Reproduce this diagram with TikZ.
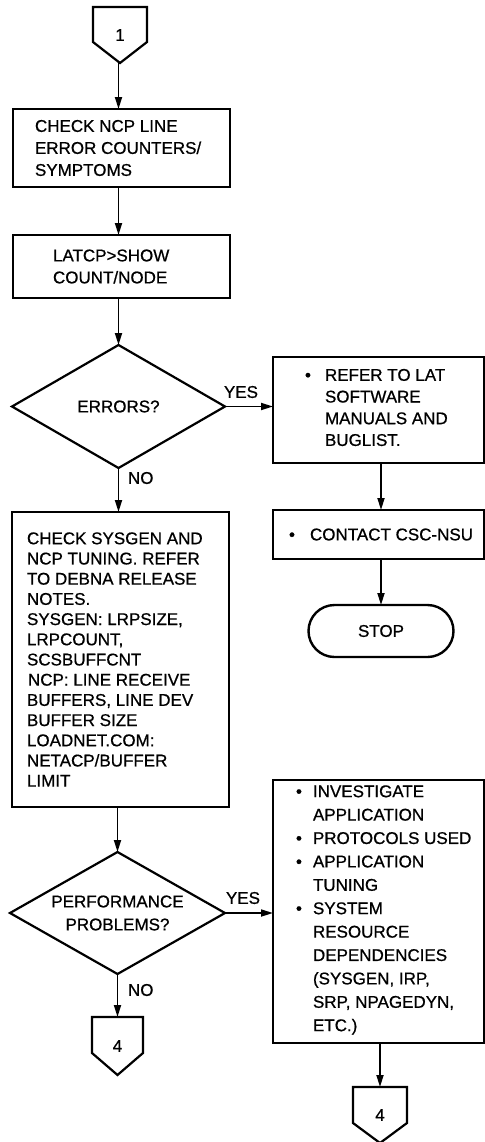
\documentclass[tikz,border=0pt]{standalone}
\usepackage{fontspec}
% a medium weight: the regular face, slightly emboldened
\setmainfont{Liberation Sans}[BoldFont={Liberation Sans}, BoldFeatures={FakeBold=0.7}]
\usetikzlibrary{shapes.geometric,arrows.meta}

% hanging bullet of a given width
\newcommand\bitem[1]{\makebox[#1][l]{•}}

\begin{document}
\begin{tikzpicture}[x=1bp,y=-1bp,
  every node/.style={font=\fontsize{17bp}{22bp}\selectfont\bfseries},
  box/.style={draw, line width=2.4bp, rectangle, inner sep=0, outer sep=0},
  txt/.style={inner sep=0, outer sep=0, align=left, anchor=west},
  dec/.style={draw, line width=2.2bp, diamond, inner sep=0, outer sep=0, align=center},
  conn/.style={inner sep=0, outer sep=0},
  lbl/.style={inner sep=0, outer sep=0},
  flow/.style={line width=1.7bp, -{Triangle[length=12bp,width=7bp]}},
  outline/.style={line width=2.2bp, line join=miter}]

\fill[white] (0,0) rectangle (485,1142);
\useasboundingbox (0,0) rectangle (485,1142);

% ---- left column ----
\node[conn, minimum width=54bp, minimum height=56bp] (c1) at (120,35) {1};
\draw[outline] (c1.north west) -- (c1.north east) -- ([yshift=21bp]c1.south east)
  -- (c1.south) -- ([yshift=21bp]c1.south west) -- cycle;

\node[box, minimum width=217bp, minimum height=78bp] (b1) at (121.5,148) {};
\node[txt] (t1) at ([xshift=22bp]b1.west) {CHECK NCP LINE\\ERROR COUNTERS/\\SYMPTOMS};

\node[box, minimum width=217bp, minimum height=63bp] (b2) at (121.5,266.5) {};
\node[txt] (t2) at ([xshift=40bp]b2.west) {LATCP>SHOW\\COUNT/NODE};

\node[dec, aspect=1.73, minimum width=213bp, minimum height=123bp] (d1) at (118.5,406.5) {ERRORS?};

\node[box, minimum width=217bp, minimum height=295bp] (b4) at (120.5,659.5) {};
\node[txt, font=\fontsize{17bp}{20.2bp}\selectfont\bfseries] (t4) at ([xshift=15bp]b4.west)
  {CHECK SYSGEN AND\\NCP TUNING. REFER\\TO DEBNA RELEASE\\NOTES.\\SYSGEN: LRPSIZE,\\LRPCOUNT,\\SCSBUFFCNT\\\hspace*{1bp}NCP: LINE RECEIVE\\BUFFERS, LINE DEV\\BUFFER SIZE\\LOADNET.COM:\\NETACP/BUFFER\\LIMIT};

\node[dec, aspect=1.76, minimum width=215bp, minimum height=122bp,
  font=\fontsize{17bp}{23bp}\selectfont\bfseries] (d2) at (117.5,913) {PERFORMANCE\\PROBLEMS?};

\node[conn, minimum width=51bp, minimum height=58bp] (c4a) at (117.5,1046) {4};
\draw[outline] (c4a.north west) -- (c4a.north east) -- ([yshift=22bp]c4a.south east)
  -- (c4a.south) -- ([yshift=22bp]c4a.south west) -- cycle;

% ---- right column ----
\node[box, minimum width=211bp, minimum height=106bp] (b3) at (378.5,410) {};
\node[txt, font=\fontsize{17bp}{21.7bp}\selectfont\bfseries, yshift=2.5bp] (t3) at ([xshift=32bp]b3.west)
  {\bitem{20bp}REFER TO LAT\\\hspace*{20bp}SOFTWARE\\\hspace*{20bp}MANUALS AND\\\hspace*{20bp}BUGLIST.};

\node[box, minimum width=211bp, minimum height=49bp] (bc) at (378.5,534.5) {};
\node[txt] (tc) at ([xshift=16bp]bc.west) {\bitem{21bp}CONTACT CSC-NSU};

\node[box, rounded corners=26bp, minimum width=145bp, minimum height=52bp] (stop) at (381,631) {STOP};

\node[box, minimum width=211bp, minimum height=263bp] (b5) at (378.5,911.5) {};
\node[txt, font=\fontsize{17bp}{23.4bp}\selectfont\bfseries, yshift=1.5bp] (t5) at ([xshift=23bp]b5.west)
  {\bitem{17bp}INVESTIGATE\\\hspace*{17bp}APPLICATION\\\bitem{17bp}PROTOCOLS USED\\\bitem{17bp}APPLICATION\\\hspace*{17bp}TUNING\\\bitem{17bp}SYSTEM\\\hspace*{17bp}RESOURCE\\\hspace*{17bp}DEPENDENCIES\\\hspace*{17bp}(SYSGEN, IRP,\\\hspace*{17bp}SRP, NPAGEDYN,\\\hspace*{17bp}ETC.)};

\node[conn, minimum width=54bp, minimum height=56bp] (c4b) at (380,1115) {4};
\draw[outline] (c4b.north west) -- (c4b.north east) -- ([yshift=20bp]c4b.south east)
  -- (c4b.south) -- ([yshift=20bp]c4b.south west) -- cycle;

% ---- branch labels ----
\node[lbl] (yes1) at (241,392) {YES};
\node[lbl, anchor=west] (no1) at (128,478) {NO};
\node[lbl] (yes2) at (243,898) {YES};
\node[lbl, anchor=west] (no2) at (128,990) {NO};

% ---- connectors ----
\draw[flow] (c1.south -| d1.north) -- (b1.north -| d1.north);
\draw[flow] (b1.south -| d1.north) -- (b2.north -| d1.north);
\draw[flow] (b2.south -| d1.north) -- (d1.north);
\draw[flow] (d1.south) -- (b4.north -| d1.south);
\draw[flow] (d1.east) -- (d1.east -| b3.west);
\draw[flow] (b3.south -| stop.north) -- (bc.north -| stop.north);
\draw[flow] (bc.south -| stop.north) -- (stop.north);
\draw[flow] (b4.south -| d2.north) -- (d2.north);
\draw[flow] (d2.east) -- (d2.east -| b5.west);
\draw[flow] (d2.south) -- (c4a.north -| d2.south);
\draw[flow] (b5.south -| c4b.north) -- (c4b.north);
\end{tikzpicture}
\end{document}
